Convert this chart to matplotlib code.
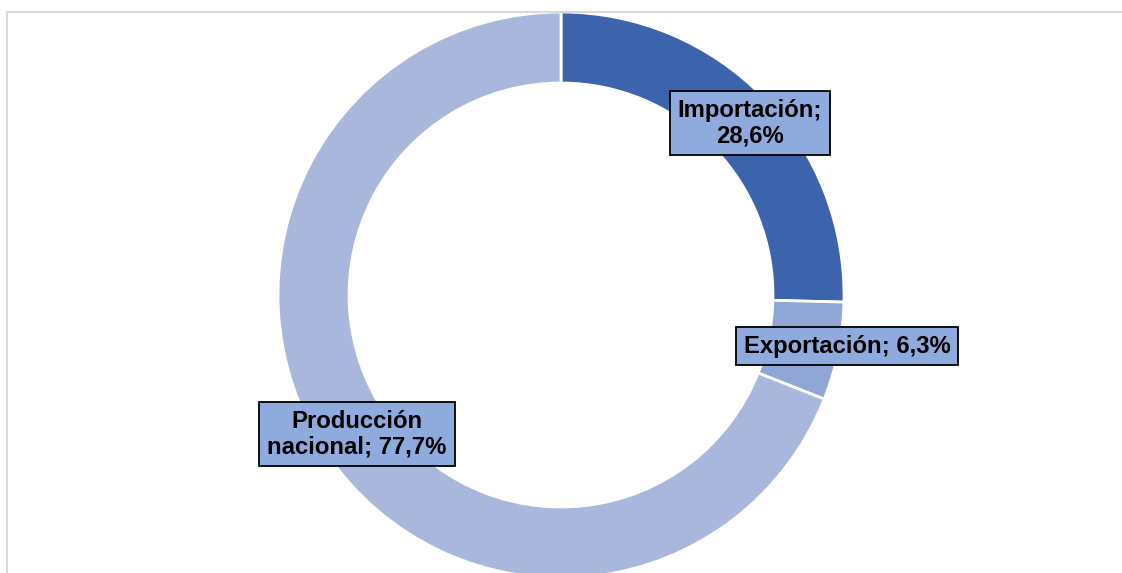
import matplotlib
matplotlib.use("Agg")
import matplotlib.pyplot as plt

categories = ["Importación", "Exportación", "Producción nacional"]
values = [28.6, 6.3, 77.7]
labels = ["Importación;\n28,6%", "Exportación; 6,3%", "Producción\nnacional; 77,7%"]
colors = ["#3B64AD", "#8FA6D6", "#A9B7DC"]

W, H = 1122, 573
fig = plt.figure(figsize=(W / 100, H / 100), dpi=100)
ax = fig.add_axes([0, 0, 1, 1])

cx, cy = 561, H - 295
R, width = 283, 71

wedges, _ = ax.pie(values, colors=colors, startangle=90, counterclock=False,
                   center=(cx, cy), radius=R,
                   wedgeprops=dict(width=width, edgecolor="white", linewidth=2))

ax.set_xlim(0, W)
ax.set_ylim(0, H)
ax.set_aspect("equal")
ax.axis("off")

# label boxes (pixel positions of centers)
label_pos = [(750, 123), (847, 346), (357, 434)]
for lab, (x, y) in zip(labels, label_pos):
    ax.text(x, H - y, lab, ha="center", va="center", fontsize=17.2,
            fontweight="bold", family=["Liberation Sans", "DejaVu Sans"],
            linespacing=1.12,
            bbox=dict(boxstyle="square,pad=0.33", facecolor="#8FAADC",
                      edgecolor="black", linewidth=1.3))

# outer chart frame
ax.plot([7, 7, W + 5], [-5, H - 12, H - 12], color="#D9D9D9", linewidth=1.5,
        clip_on=False)

fig.savefig("out.png", dpi=100)
